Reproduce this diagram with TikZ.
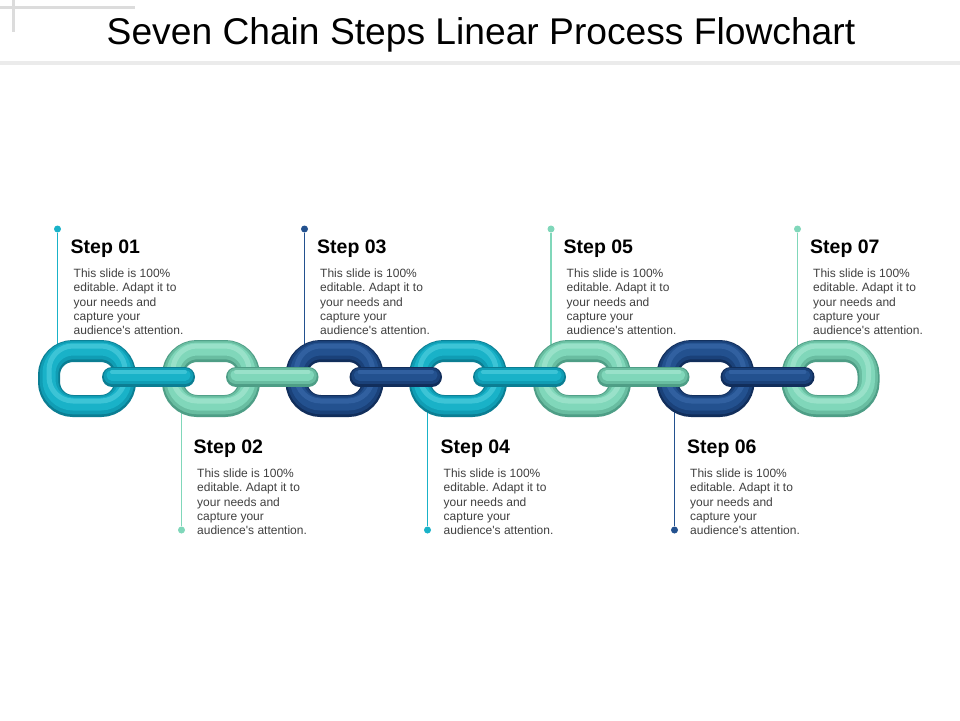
\documentclass[tikz,border=0pt]{standalone}
\usepackage{fontspec}
\setmainfont{Liberation Sans}
\newfontfamily\plainfont{Liberation Sans}
\frenchspacing
\definecolor{cydark}{HTML}{0B7E93}
\definecolor{cymid}{HTML}{109DB4}
\definecolor{cymain}{HTML}{19B2C8}
\definecolor{cylight}{HTML}{5AD3E3}
\definecolor{midark}{HTML}{4E9E86}
\definecolor{mimid}{HTML}{69BDA1}
\definecolor{mimain}{HTML}{80D7BA}
\definecolor{milight}{HTML}{AFEBD6}
\definecolor{nvdark}{HTML}{112E5B}
\definecolor{nvmid}{HTML}{1A4179}
\definecolor{nvmain}{HTML}{23518F}
\definecolor{nvlight}{HTML}{3D6EAE}
\definecolor{bodygray}{HTML}{404040}
\definecolor{decogray}{HTML}{DCDCDC}
\definecolor{rulegray}{HTML}{EBEBEB}
\newcommand{\chainlink}[3]{%
  \draw[linkbase, #3dark, line width=22pt] (#2-38,351) rectangle (#2+38,406);
  \draw[linkbase, #3mid, line width=18.5pt, yshift=1pt] (#2-38,351) rectangle (#2+38,406);
  \draw[linkbase, #3main, line width=13pt, yshift=2pt] (#2-38,351) rectangle (#2+38,406);
  \draw[linkbase, #3light, line width=5pt, yshift=5pt, opacity=0.55] (#2-38,351) rectangle (#2+38,406);
}
\newcommand{\chainbar}[3]{%
  \draw[barbase, #3dark, line width=20pt] ([xshift=25pt,yshift=1.5pt]#1) -- ([xshift=-26pt,yshift=1.5pt]#2);
  \draw[barbase, #3mid, line width=16.5pt] ([xshift=25pt,yshift=2.5pt]#1) -- ([xshift=-26pt,yshift=2.5pt]#2);
  \draw[barbase, #3main, line width=11pt] ([xshift=25pt,yshift=3.5pt]#1) -- ([xshift=-26pt,yshift=3.5pt]#2);
  \draw[barbase, #3light, line width=4pt, opacity=0.55] ([xshift=25pt,yshift=6.5pt]#1) -- ([xshift=-26pt,yshift=6.5pt]#2);
}
\begin{document}
\begin{tikzpicture}[x=1pt,y=-1pt,
  linkbase/.style={rounded corners=24pt},
  barbase/.style={line cap=round},
  steptitle/.style={font=\fontsize{19.5}{22}\bfseries\selectfont, text=black, inner sep=0pt, anchor=base west},
  stepbody/.style={font=\plainfont\fontsize{12}{14.3}\selectfont, text=bodygray, inner sep=0pt, anchor=north west, align=left},
  stepdot/.style={circle, inner sep=0pt, minimum size=7pt},
  stepline/.style={line width=1.4pt}]
\useasboundingbox (0,0) rectangle (960,720);
\fill[white] (0,0) rectangle (960,720);
% decorations
\fill[decogray] (0,5.5) rectangle (135,8.5);
\fill[decogray] (11.5,0) rectangle (14.5,32);
\fill[rulegray] (0,61) rectangle (960,65);
% title
\node[font=\fontsize{37.2}{40}\selectfont, text=black, inner sep=0pt, anchor=base] (title) at (481,44) {Seven Chain Steps Linear Process Flowchart};
% link centres
\coordinate (l1) at (87,378.5);
\coordinate (l2) at (211,378.5);
\coordinate (l3) at (334.5,378.5);
\coordinate (l4) at (458,378.5);
\coordinate (l5) at (582,378.5);
\coordinate (l6) at (705.5,378.5);
\coordinate (l7) at (830.5,378.5);
% dots
\node[stepdot, fill=cymain] (d1) at (57.5,229) {};
\node[stepdot, fill=mimain] (d2) at (181.5,530) {};
\node[stepdot, fill=nvmain] (d3) at (304.5,229) {};
\node[stepdot, fill=cymain] (d4) at (427.5,530) {};
\node[stepdot, fill=mimain] (d5) at (551,229) {};
\node[stepdot, fill=nvmain] (d6) at (674.5,530) {};
\node[stepdot, fill=mimain] (d7) at (797.5,229) {};
% lines
\draw[stepline, cymain] (d1) -- (d1 |- l1);
\draw[stepline, mimain] (d2) -- (d2 |- l2);
\draw[stepline, nvmain] (d3) -- (d3 |- l3);
\draw[stepline, cymain] (d4) -- (d4 |- l4);
\draw[stepline, mimain] (d5) -- (d5 |- l5);
\draw[stepline, nvmain] (d6) -- (d6 |- l6);
\draw[stepline, mimain] (d7) -- (d7 |- l7);
% texts
\node[steptitle] (s1) at (70.5,253) {Step 01};
\node[stepbody] (b1) at (73.5,268.5) {This slide is 100\%\\editable. Adapt it to\\your needs and\\capture your\\audience's attention.};
\node[steptitle] (s2) at (193.5,453) {Step 02};
\node[stepbody] (b2) at (197,468.5) {This slide is 100\%\\editable. Adapt it to\\your needs and\\capture your\\audience's attention.};
\node[steptitle] (s3) at (317,253) {Step 03};
\node[stepbody] (b3) at (320,268.5) {This slide is 100\%\\editable. Adapt it to\\your needs and\\capture your\\audience's attention.};
\node[steptitle] (s4) at (440.5,453) {Step 04};
\node[stepbody] (b4) at (443.5,468.5) {This slide is 100\%\\editable. Adapt it to\\your needs and\\capture your\\audience's attention.};
\node[steptitle] (s5) at (563.5,253) {Step 05};
\node[stepbody] (b5) at (566.5,268.5) {This slide is 100\%\\editable. Adapt it to\\your needs and\\capture your\\audience's attention.};
\node[steptitle] (s6) at (687,453) {Step 06};
\node[stepbody] (b6) at (690,468.5) {This slide is 100\%\\editable. Adapt it to\\your needs and\\capture your\\audience's attention.};
\node[steptitle] (s7) at (810,253) {Step 07};
\node[stepbody] (b7) at (813,268.5) {This slide is 100\%\\editable. Adapt it to\\your needs and\\capture your\\audience's attention.};
% links
\chainlink{l1}{87}{cy}
\chainlink{l2}{211}{mi}
\chainlink{l3}{334.5}{nv}
\chainlink{l4}{458}{cy}
\chainlink{l5}{582}{mi}
\chainlink{l6}{705.5}{nv}
\chainlink{l7}{830.5}{mi}
% bars
\chainbar{l1}{l2}{cy}
\chainbar{l2}{l3}{mi}
\chainbar{l3}{l4}{nv}
\chainbar{l4}{l5}{cy}
\chainbar{l5}{l6}{mi}
\chainbar{l6}{l7}{nv}
\end{tikzpicture}
\end{document}
